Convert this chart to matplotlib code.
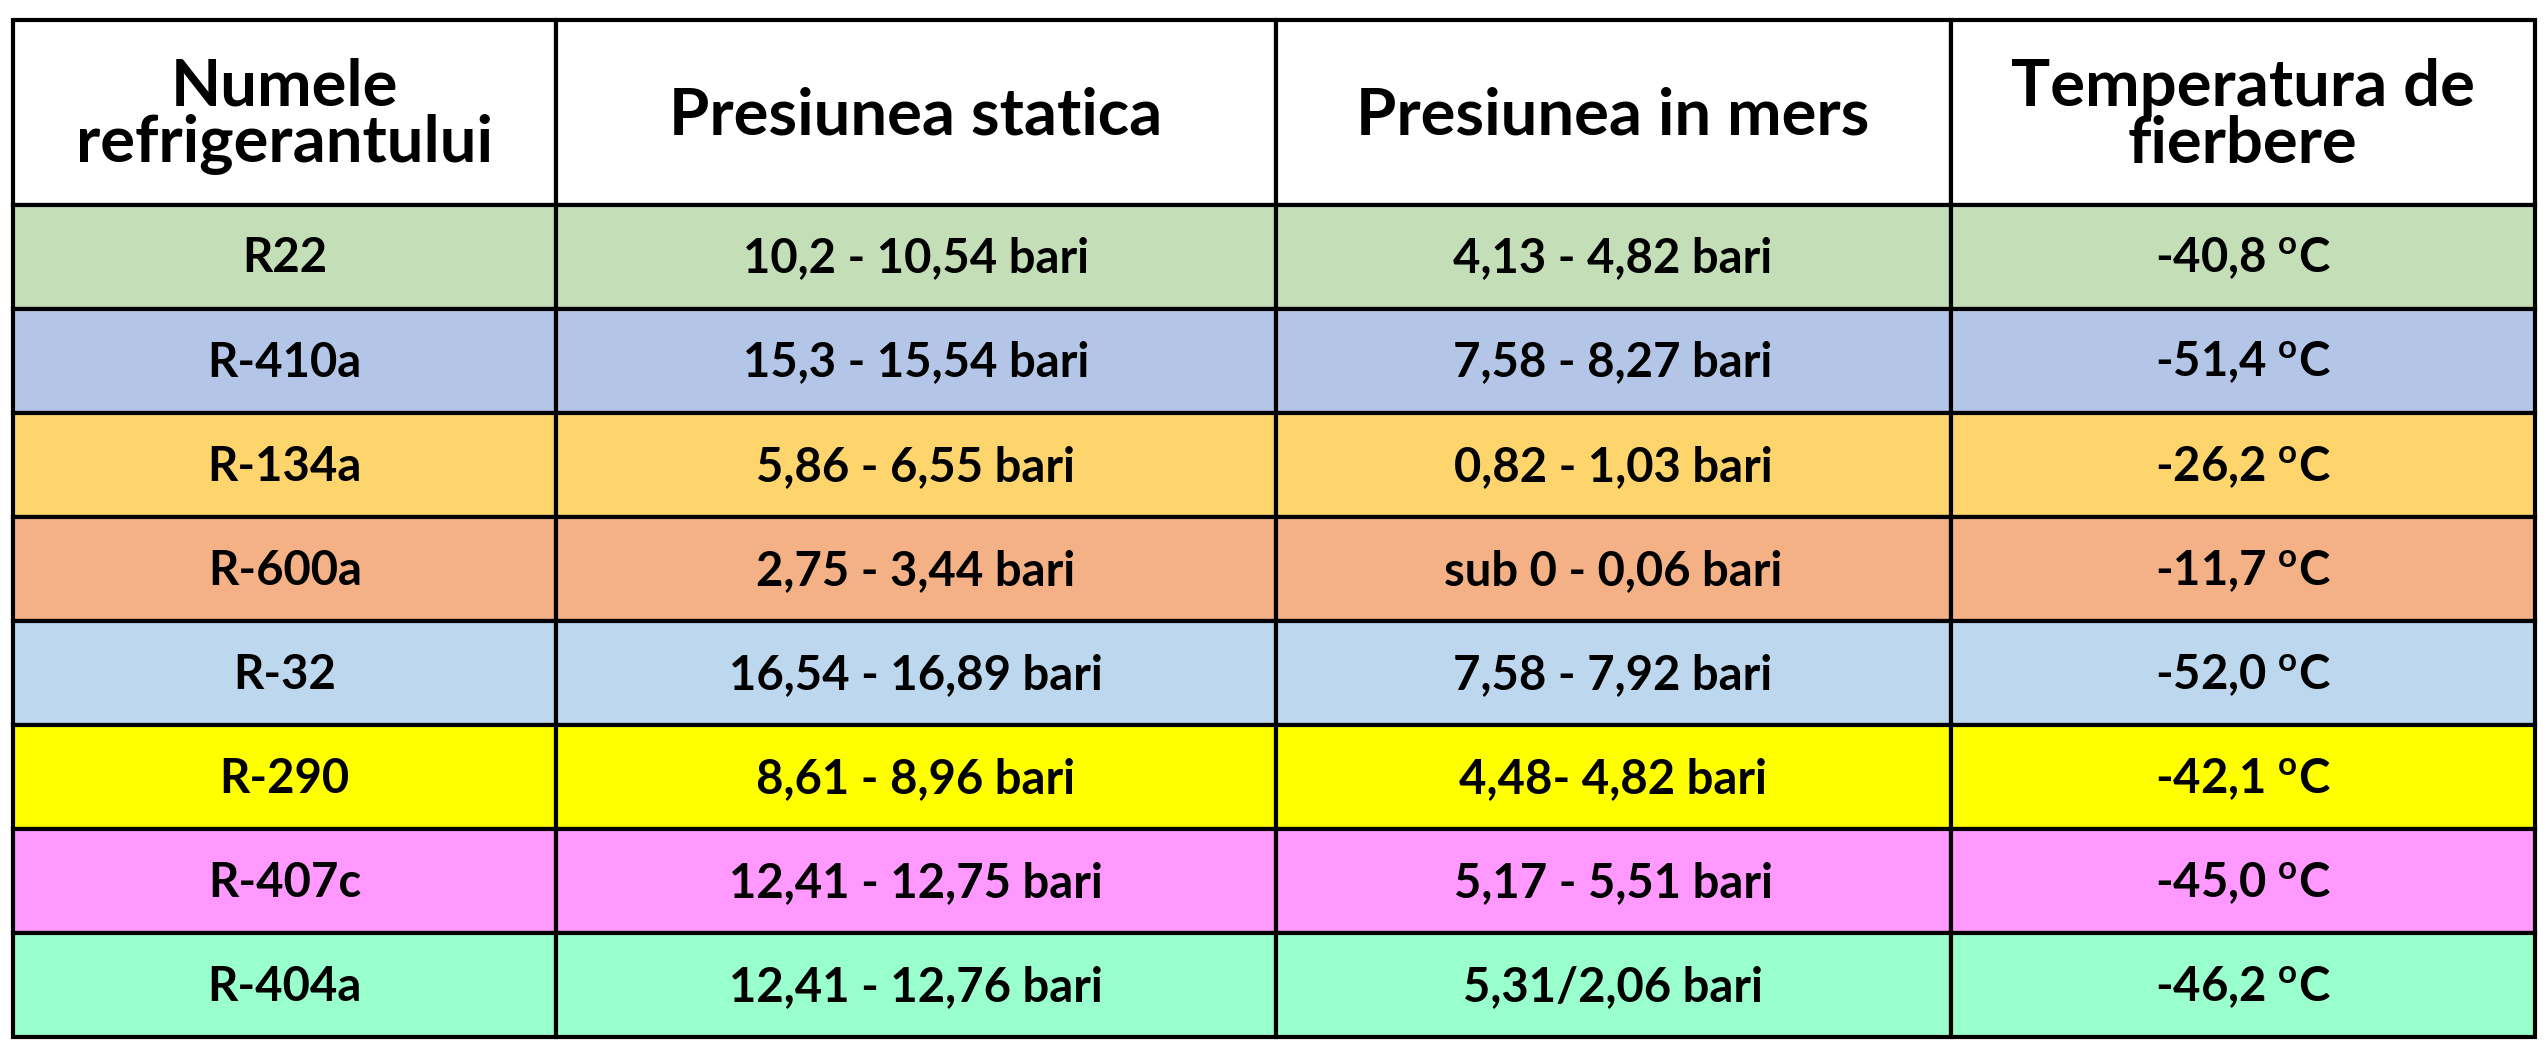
import matplotlib
matplotlib.use("Agg")
import matplotlib.pyplot as plt
from matplotlib.patches import Rectangle

plt.rcParams['font.family'] = ['Lato', 'DejaVu Sans']
plt.rcParams['mathtext.fontset'] = 'custom'
plt.rcParams['mathtext.rm'] = 'Lato:bold'
plt.rcParams['mathtext.bf'] = 'Lato:bold'

headers = ["Numele\nrefrigerantului", "Presiunea statica", "Presiunea in mers", "Temperatura de\nfierbere"]
refrigerants = ["R22", "R-410a", "R-134a", "R-600a", "R-32", "R-290", "R-407c", "R-404a"]
static_pressure = ["10,2 - 10,54 bari", "15,3 - 15,54 bari", "5,86 - 6,55 bari", "2,75 - 3,44 bari",
                   "16,54 - 16,89 bari", "8,61 - 8,96 bari", "12,41 - 12,75 bari", "12,41 - 12,76 bari"]
running_pressure = ["4,13 - 4,82 bari", "7,58 - 8,27 bari", "0,82 - 1,03 bari", "sub 0 - 0,06 bari",
                    "7,58 - 7,92 bari", "4,48- 4,82 bari", "5,17 - 5,51 bari", "5,31/2,06 bari"]
boiling_temp = ["-40,8", "-51,4", "-26,2", "-11,7", "-52,0", "-42,1", "-45,0", "-46,2"]
row_colors = ["#c4dfb8", "#b4c6e7", "#fdd56c", "#f3b185", "#bdd7ee", "#ffff00", "#ff99ff", "#99ffcc"]

# layout in reference pixel units (1548 x 622 view)
col_x = [8, 338, 775, 1185, 1540]
top, header_h, row_h = 12, 110, 62

fig = plt.figure(figsize=(25.48, 10.44), dpi=100)
ax = fig.add_axes([0, 0, 1, 1])
ax.set_xlim(0, 1548)
ax.set_ylim(622, 0)
ax.axis('off')

lw = 3
for c in range(4):
    x0, x1 = col_x[c], col_x[c + 1]
    ax.add_patch(Rectangle((x0, top), x1 - x0, header_h, facecolor='white', edgecolor='black', lw=lw))
    ax.text((x0 + x1) / 2, top + header_h / 2 + 2, headers[c], ha='center', va='center',
            fontsize=47, fontweight='bold', linespacing=0.95)

for r, name in enumerate(refrigerants):
    y0 = top + header_h + r * row_h
    vals = [name, static_pressure[r], running_pressure[r], boiling_temp[r] + r" $^{\mathbf{o}}$C"]
    for c in range(4):
        x0, x1 = col_x[c], col_x[c + 1]
        ax.add_patch(Rectangle((x0, y0), x1 - x0, row_h, facecolor=row_colors[r], edgecolor='black', lw=lw))
        ax.text((x0 + x1) / 2, y0 + row_h / 2 + 1, vals[c], ha='center', va='center',
                fontsize=34, fontweight='bold')

fig.savefig("out.png", dpi=100, facecolor='white')
